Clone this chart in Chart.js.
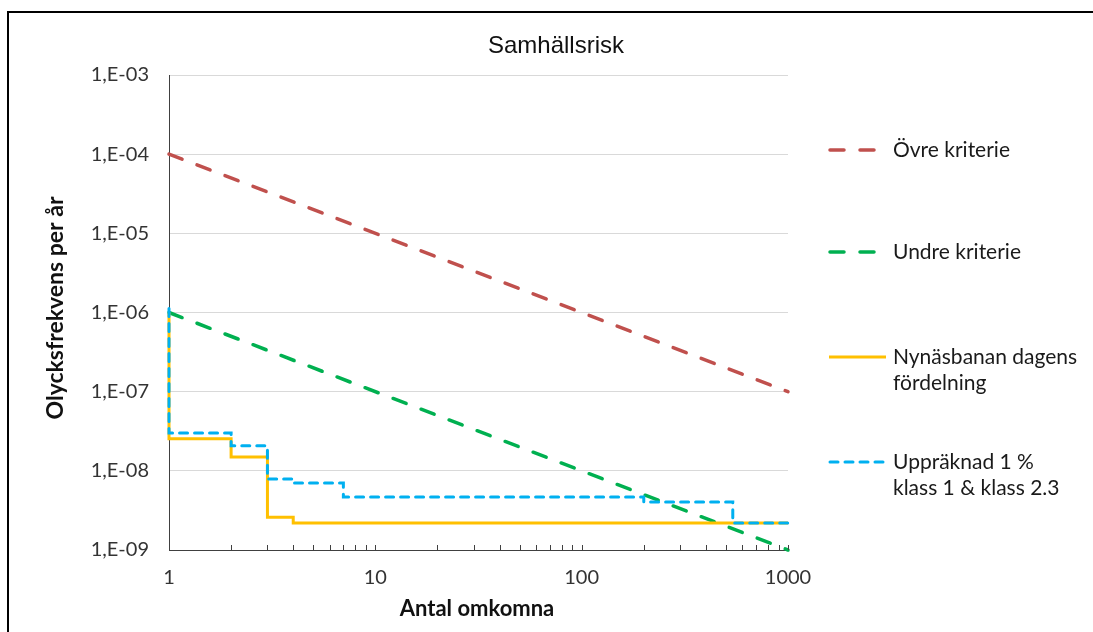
<!DOCTYPE html>
<html>
<head>
<meta charset="utf-8">
<script src="https://cdn.jsdelivr.net/npm/chart.js@4.4.1/dist/chart.umd.min.js"></script>
<style>
  html,body{margin:0;padding:0;background:#fff;overflow:hidden;}
  #wrap{position:relative;width:1093px;height:632px;overflow:hidden;}
  #frame{position:absolute;left:7px;top:11px;right:0;bottom:0;border-left:2px solid #000;border-top:2px solid #000;pointer-events:none;}
</style>
</head>
<body>
<div id="wrap">
  <canvas id="chart" width="1093" height="632"></canvas>
  <div id="frame"></div>
</div>
<script>
// ================= DATA =================
const critN      = [1, 1000];
const ovreKrit   = [1e-4, 1e-7];
const undreKrit  = [1e-6, 1e-9];

const dagensN    = [1, 1, 2, 3, 4, 1000];
const dagensF    = [1e-6, 2.55e-8, 1.5e-8, 2.6e-9, 2.2e-9, 2.2e-9];

const uppN       = [1, 1, 2, 3, 4, 7, 200, 540, 1000];
const uppF       = [1.12e-6, 3.0e-8, 2.07e-8, 7.9e-9, 7.0e-9, 4.67e-9, 4.04e-9, 2.2e-9, 2.2e-9];

const yTickVals   = [1e-9, 1e-8, 1e-7, 1e-6, 1e-5, 1e-4, 1e-3];
const yTickLabels = ["1,E-09","1,E-08","1,E-07","1,E-06","1,E-05","1,E-04","1,E-03"];
const xMajor      = [1, 10, 100, 1000];

const FONT = "Lato, 'Open Sans', sans-serif";
const TXT = "#333333";

const pts = (xs, ys) => xs.map((x,i)=>({x, y: ys[i]}));

// minor tick positions on x (1..9 per decade)
const xTicks = [];
xMajor.forEach((d,i)=>{ if(i<xMajor.length-1){ for(let k=1;k<10;k++) xTicks.push(d*k); } else xTicks.push(d); });

// ================= PLUGIN: texts, legend, inner ticks =================
const decor = {
  id: "decor",
  afterDraw(chart){
    const ctx = chart.ctx, a = chart.chartArea, xs = chart.scales.x;
    ctx.save();
    // inward minor ticks on x axis
    ctx.strokeStyle = "#404040"; ctx.lineWidth = 1;
    xTicks.forEach(v=>{
      const px = Math.round(xs.getPixelForValue(v)) + 0.5;
      ctx.beginPath(); ctx.moveTo(px, a.bottom); ctx.lineTo(px, a.bottom - 5); ctx.stroke();
    });
    // title
    ctx.fillStyle = "#111";
    ctx.textAlign = "center"; ctx.textBaseline = "middle";
    ctx.font = "24px 'Liberation Sans', Arial, sans-serif";
    ctx.fillText("Samhällsrisk", 556, 46);
    // axis titles
    ctx.font = "bold 22px " + FONT;
    ctx.fillText("Antal omkomna", 477, 609);
    ctx.save();
    ctx.translate(56, 308); ctx.rotate(-Math.PI/2);
    ctx.font = "bold 23px " + FONT;
    ctx.fillText("Olycksfrekvens per år", 0, 0);
    ctx.restore();
    // legend
    const legY = [150, 252, 357, 462];
    ctx.textAlign = "left"; ctx.font = "21px " + FONT; ctx.fillStyle = "#1a1a1a";
    chart.data.datasets.forEach((ds,i)=>{
      const y = legY[i];
      ctx.save();
      ctx.strokeStyle = ds.borderColor; ctx.lineWidth = ds.borderWidth;
      ctx.setLineDash(ds.borderDash || []); ctx.lineCap = ds.borderCapStyle || "butt";
      ctx.beginPath(); ctx.moveTo(ds.legendX0, y); ctx.lineTo(886, y); ctx.stroke();
      ctx.restore();
      const lines = Array.isArray(ds.label) ? ds.label : [ds.label];
      lines.forEach((t,j)=>ctx.fillText(t, 893, y + j*26));
    });
    ctx.restore();
  }
};

// ================= CHART =================
new Chart(document.getElementById("chart").getContext("2d"), {
  type: "line",
  data: {
    datasets: [
      {label:"Övre kriterie", data: pts(critN, ovreKrit), borderColor:"#c0504d", borderWidth:3.5,
       borderDash:[14,16], borderCapStyle:"round", pointRadius:0, order:4, legendX0:830, clip:false},
      {label:"Undre kriterie", data: pts(critN, undreKrit), borderColor:"#00b050", borderWidth:3.5,
       borderDash:[14,16], borderCapStyle:"round", pointRadius:0, order:3, legendX0:830, clip:false},
      {label:["Nynäsbanan dagens","fördelning"], data: pts(dagensN, dagensF), borderColor:"#ffc000", borderWidth:3,
       stepped:"before", pointRadius:0, order:2, legendX0:829, clip:false},
      {label:["Uppräknad 1 %","klass 1 & klass 2.3"], data: pts(uppN, uppF), borderColor:"#00b0f0", borderWidth:3,
       borderDash:[8,7], borderCapStyle:"round", stepped:"before", pointRadius:0, order:1, legendX0:830, clip:false}
    ]
  },
  options: {
    responsive: false,
    animation: false,
    layout: { padding: { left: 0, top: 75, right: 1093 - 788, bottom: 0 } },
    plugins: { legend: { display: false }, tooltip: { enabled: false }, title: { display: false } },
    scales: {
      x: {
        type: "logarithmic", min: 1, max: 1000,
        afterBuildTicks: s => { s.ticks = xTicks.map(v=>({value:v})); },
        afterFit: s => { s.height = 82; },
        ticks: {
          autoSkip: false, maxRotation: 0, padding: 16, color: TXT,
          font: { family: FONT, size: 20 },
          callback: v => xMajor.includes(v) ? String(v) : ""
        },
        grid: { display: false, drawTicks: false },
        border: { display: true, color: "#404040", width: 1 }
      },
      y: {
        type: "logarithmic", min: 1e-9, max: 1e-3,
        afterBuildTicks: s => { s.ticks = yTickVals.map(v=>({value:v})); },
        afterFit: s => { s.width = 169; },
        ticks: {
          autoSkip: false, padding: 20, color: TXT,
          font: { family: FONT, size: 20 },
          callback: (v, i) => yTickLabels[i]
        },
        grid: { color: "#d9d9d9", lineWidth: 1, drawTicks: false },
        border: { display: true, color: "#404040", width: 1 }
      }
    }
  },
  plugins: [decor]
});
</script>
</body>
</html>
